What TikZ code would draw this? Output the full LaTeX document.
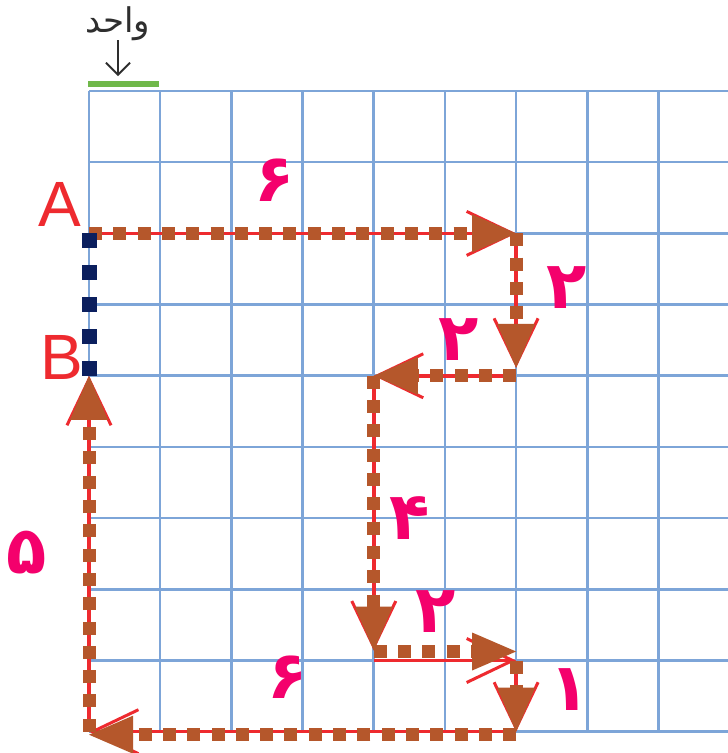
\documentclass[tikz,border=0pt]{standalone}
\usepackage{fontspec}
\setmainfont{Liberation Sans}
\newfontfamily\arabicfont[Script=Arabic]{DejaVu Sans}
\TeXXeTstate=1
\usetikzlibrary{arrows.meta}
\definecolor{gridc}{HTML}{7DA5D8}
\definecolor{redc}{HTML}{EE2A2F}
\definecolor{brownc}{HTML}{B5572B}
\definecolor{navyc}{HTML}{0B1F5E}
\definecolor{pinkc}{HTML}{F4006C}
\definecolor{greenc}{HTML}{70B84A}
\definecolor{darkc}{HTML}{2E2E2E}
\tikzset{
  gridline/.style={draw=gridc, line width=2.6pt},
  redpath/.style={draw=redc, line width=3.5pt, -{Straight Barb[length=46pt,width=44pt,line width=3pt]}},
  dotpath/.style={draw=brownc, line width=13pt, dash pattern=on 13pt off 11.3pt,
    -{Triangle[length=44pt,width=38pt,line width=0pt]}},
  bluedots/.style={draw=navyc, line width=15pt, dash pattern=on 15pt off 17pt},
  num/.style={text=pinkc, inner sep=0pt, font=\arabicfont\bfseries\fontsize{66}{66}\selectfont},
  lab/.style={text=redc, inner sep=0pt, font=\fontsize{64}{64}\selectfont},
}
\begin{document}
\begin{tikzpicture}[x=1pt,y=-1pt]
\useasboundingbox (0,0) rectangle (728,753);
\fill[white] (0,0) rectangle (728,753);
% grid
\foreach \k in {0,...,8} \draw[gridline] ({89+\k*71.19},91) -- ({89+\k*71.19},731.7);
\foreach \k in {0,...,9} \draw[gridline] (89,{91+\k*71.19}) -- (728,{91+\k*71.19});
% unit marker
\node[inner sep=0pt, text=darkc, font=\arabicfont\fontsize{34}{34}\selectfont] (unit) at (118,24) {\beginR واحد\endR};
\coordinate (u1) at (118,40);
\coordinate (u2) at (118,76);
\draw[darkc, line width=1.8pt, -{Straight Barb[length=12pt,width=24pt,line width=1.8pt]}] (u1) -- (u2);
\coordinate (g1) at (88,83.5);
\coordinate (g2) at (159,83.5);
\draw[greenc, line width=6pt] (g1) -- (g2);
% path corners
\coordinate (A) at (89,233.4);
\coordinate (P1) at (516.1,233.4);
\coordinate (P2) at (516.1,375.8);
\coordinate (P3) at (373.8,375.8);
\coordinate (P4) at (373.8,660.5);
\coordinate (P5) at (516.1,660.5);
\coordinate (P6) at (516.1,731.7);
\coordinate (P7) at (89,731.7);
\coordinate (B) at (89,375.8);
% red lines
\draw[redpath] (A) -- (P1);
\draw[redpath, shorten >=8pt] (P1) -- (P2);
\draw[redpath] (P2) -- (P3);
\draw[redpath, shorten >=10pt] (P3) -- (P4);
\draw[redpath] (P4) -- (P5);
\draw[redpath] (P5) -- (P6);
\draw[redpath] (P6) -- (P7);
\draw[redpath] (P7) -- (B);
% brown dotted with heads
\draw[dotpath] (A) -- (P1);
\draw[dotpath, shorten >=8pt] (P1) -- (P2);
\draw[dotpath] (P2) -- (P3);
\draw[dotpath, shorten >=10pt] (P3) -- (P4);
\draw[dotpath] ([yshift=9pt]P4) -- ([yshift=9pt]P5);
\draw[dotpath] (P5) -- (P6);
\draw[dotpath] ([yshift=-3pt]P6) -- ([yshift=-3pt]P7);
\draw[dotpath] (P7) -- (B);
% blue dotted A-B
\draw[bluedots] (A) -- (B);
% labels
\node[lab] (lA) at (60,204) {A};
\node[lab] (lB) at (62,357) {B};
\node[num] (n1) at (275,180) {۶};
\node[num] (n2) at (567,288) {۲};
\node[num] (n3) at (459,340) {۲};
\node[num] (n4) at (410,518) {۴};
\node[num] (n5) at (436,612) {۲};
\node[num] (n6) at (570,690) {۱};
\node[num] (n7) at (288,677) {۶};
\node[num] (n8) at (27,553) {۵};
\end{tikzpicture}
\end{document}
